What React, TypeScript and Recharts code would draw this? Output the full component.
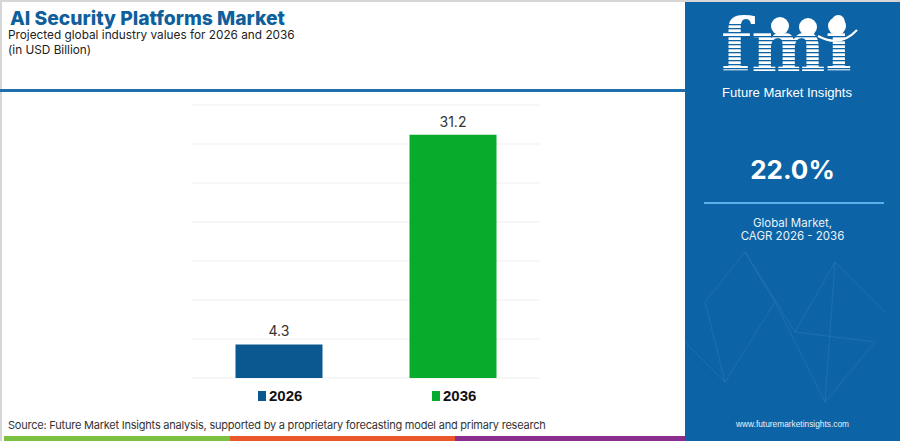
import React from "react";
import { BarChart, Bar, XAxis, YAxis, CartesianGrid, LabelList, Cell } from "recharts";

const years = ["2026", "2036"];
const values = [4.3, 31.2];
const barColors = ["#0b5891", "#08ab2c"];
const yTicks = [0, 5, 10, 15, 20, 25, 30, 35];

const data = years.map((y, i) => ({ year: y, value: values[i] }));

const LegendTick = (props: any) => {
  const { x, y, payload, index } = props;
  const color = barColors[index] || barColors[0];
  return (
    <g>
      <rect x={x - 21} y={y + 5} width={8} height={10} fill={color} />
      <text x={x - 10} y={y + 15} fill="#111" fontSize={15} fontWeight={700} fontFamily="Liberation Sans, Arial, sans-serif">
        {payload.value}
      </text>
    </g>
  );
};

const stripes = Array.from({ length: 13 }, (_, i) => i);

export default function App() {
  return (
    <div style={{ position: "absolute", left: 0, top: 0, width: 900, height: 441, background: "#fff", overflow: "hidden", fontFamily: "Inter, 'Open Sans', sans-serif" }}>
      {/* border */}
      <div style={{ position: "absolute", left: 0, top: 0, width: 900, height: 2, background: "#d6d6d6" }} />
      <div style={{ position: "absolute", left: 0, top: 0, width: 2, height: 441, background: "#d6d6d6" }} />
      {/* header */}
      <div style={{ position: "absolute", left: 10, top: 9, fontSize: 19.3, lineHeight: "19px", fontWeight: 800, color: "#0f5f9c", whiteSpace: "nowrap" }}>
        AI Security Platforms Market
      </div>
      <div style={{ position: "absolute", left: 8, top: 28.5, fontSize: 11.8, color: "#222", whiteSpace: "nowrap", lineHeight: "13px" }}>
        Projected global industry values for 2026 and 2036
      </div>
      <div style={{ position: "absolute", left: 8, top: 44, fontSize: 11.8, color: "#222", whiteSpace: "nowrap", lineHeight: "13px" }}>
        (in USD Billion)
      </div>
      <div style={{ position: "absolute", left: 0, top: 89, width: 685, height: 3, background: "#1f6fae" }} />

      {/* chart */}
      <div style={{ position: "absolute", left: 0, top: 0 }}>
        <BarChart
          width={685}
          height={441}
          data={data}
          margin={{ top: 105, right: 145, left: 192, bottom: 33 }}
          barCategoryGap="25%"
        >
          <CartesianGrid vertical={false} stroke="#efefef" strokeWidth={1} />
          <YAxis hide domain={[0, 35]} ticks={yTicks} />
          <XAxis dataKey="year" axisLine={false} tickLine={false} height={30} tick={<LegendTick />} interval={0} />
          <Bar dataKey="value" isAnimationActive={false}>
            {data.map((d, i) => (
              <Cell key={d.year} fill={barColors[i]} />
            ))}
            <LabelList dataKey="value" position="top" offset={8} fill="#333" fontSize={14} fontFamily="Inter, sans-serif" />
          </Bar>
        </BarChart>
      </div>

      {/* source */}
      <div style={{ position: "absolute", left: 8, top: 418, fontSize: 11, lineHeight: "14px", color: "#333", whiteSpace: "nowrap", letterSpacing: -0.22 }}>
        Source: Future Market Insights analysis, supported by a proprietary forecasting model and primary research
      </div>
      <div style={{ position: "absolute", left: 4, top: 436, width: 226, height: 5, background: "#7cc142" }} />
      <div style={{ position: "absolute", left: 230, top: 436, width: 225, height: 5, background: "#e8582a" }} />
      <div style={{ position: "absolute", left: 455, top: 436, width: 230, height: 5, background: "#8b2d8c" }} />

      {/* right panel */}
      <div style={{ position: "absolute", left: 685, top: 2, width: 215, height: 439, background: "#0c63a5" }}>
        <svg width={215} height={439} style={{ position: "absolute", left: 0, top: 0 }}>
          <g stroke="#3f8fcf" strokeOpacity={0.3} strokeWidth={1} fill="none">
            <path d="M20 300 L60 250 L110 330 L150 260 L200 310" />
            <path d="M40 380 L90 300 L140 400 L190 340" />
            <path d="M60 250 L90 300 M150 260 L140 400 M110 330 L190 340" />
            <path d="M0 340 L40 380 L20 300" />
          </g>
          <text x={36} y={69} fill="#fff" fontSize={72} fontWeight={700} fontFamily="DejaVu Serif, serif" textLength={131} lengthAdjust="spacingAndGlyphs">fmi</text>
          {stripes.map((i) => (
            <rect key={i} x={30} y={22 + i * 4} width={140} height={1.3} fill="#0c63a5" />
          ))}
          <circle cx={95} cy={24} r={9} fill="#fff" />
          <circle cx={123} cy={25} r={9} fill="#fff" />
          <circle cx={152} cy={24} r={9} fill="#fff" />
          <path d="M133 34 Q155 46 172 28" stroke="#fff" strokeWidth={2} fill="none" />
          <text x={102} y={95} fill="#fff" fontSize={13} textAnchor="middle" fontFamily="Liberation Sans, sans-serif" textLength={130} lengthAdjust="spacingAndGlyphs">Future Market Insights</text>
          <text x={107.5} y={177} fill="#fff" fontSize={26} fontWeight={700} textAnchor="middle" fontFamily="Inter, sans-serif">22.0%</text>
          <rect x={19} y={200} width={180} height={2} fill="#5ab0e8" />
          <text x={107.5} y={225} fill="#e8f2fb" fontSize={11.5} textAnchor="middle" fontFamily="Inter, sans-serif">Global Market,</text>
          <text x={107.5} y={238} fill="#e8f2fb" fontSize={11.5} textAnchor="middle" fontFamily="Inter, sans-serif">CAGR 2026 - 2036</text>
          <text x={107.5} y={425} fill="#e8f2fb" fontSize={9} textAnchor="middle" fontFamily="Liberation Sans, sans-serif" textLength={113} lengthAdjust="spacingAndGlyphs">www.futuremarketinsights.com</text>
        </svg>
      </div>
    </div>
  );
}
